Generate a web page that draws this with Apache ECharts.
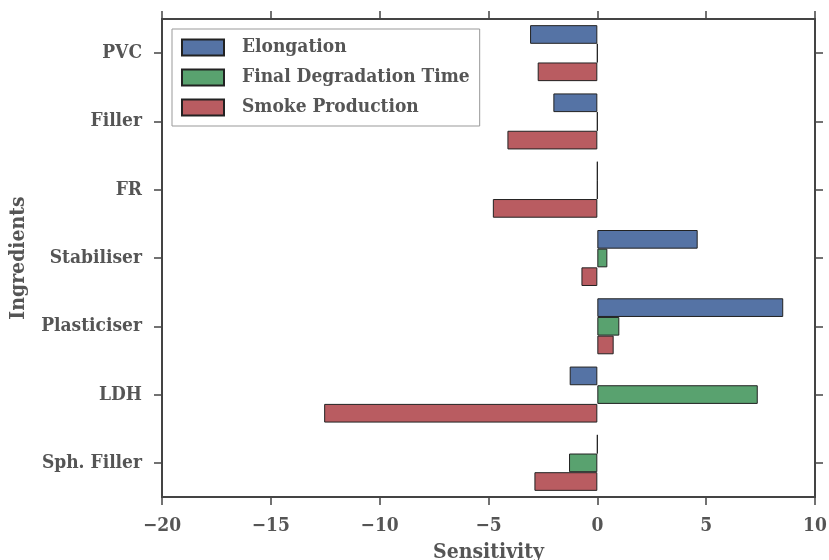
<!DOCTYPE html>
<html><head><meta charset="utf-8">
<script src="https://cdn.jsdelivr.net/npm/echarts@6/dist/echarts.min.js"></script>
<style>html,body{margin:0;padding:0;background:#fff}#c{width:829px;height:560px}</style>
</head><body><div id="c"></div>
<script>
const categories = ['PVC', 'Filler', 'FR', 'Stabiliser', 'Plasticiser', 'LDH', 'Sph. Filler'];
const elongation = [-3.09, -2.02, 0, 4.61, 8.54, -1.27, 0];
const finalDegradationTime = [0, 0, 0, 0.46, 1.01, 7.37, -1.30];
const smokeProduction = [-2.74, -4.13, -4.80, -0.73, 0.75, -12.55, -2.89];
const seriesNames = ['Elongation', 'Final Degradation Time', 'Smoke Production'];
const xTicks = [-20, -15, -10, -5, 0, 5, 10];

const FONT = 'DejaVu Serif Condensed';
const TXT = '#555555';
const AX = '#444444';
const colors = ['#5573a5', '#59a26f', '#b95c61'];

const chart = echarts.init(document.getElementById('c'), null, {renderer: 'canvas'});
const mk = (name, data, i) => ({
  name, type: 'bar', data, xAxisIndex: 0, yAxisIndex: 0,
  barGap: '0%', barCategoryGap: '18%',
  itemStyle: {color: colors[i], borderColor: '#222', borderWidth: 1},
  emphasis: {disabled: true}, animation: false
});
const lbl = {fontFamily: FONT, fontWeight: 'bold', fontSize: 19, color: TXT};
chart.setOption({
  animation: false,
  textStyle: {fontFamily: FONT},
  grid: {left: 162, right: 14, top: 19, bottom: 63, containLabel: false, outerBoundsMode: 'none'},
  legend: {
    data: seriesNames.map(n => ({name: n, icon: 'rect'})), orient: 'vertical', left: 172, top: 29,
    itemWidth: 42, itemHeight: 16, itemGap: 11,
    padding: [9, 10, 9, 9],
    borderColor: '#999', borderWidth: 1, backgroundColor: '#fff',
    textStyle: {fontFamily: FONT, fontWeight: 'bold', fontSize: 19, color: TXT, padding: [0, 0, 0, 13]}
  },
  xAxis: [{
    type: 'value', min: xTicks[0], max: xTicks[xTicks.length - 1], interval: 5,
    name: 'Sensitivity', nameLocation: 'middle', nameGap: 45,
    nameTextStyle: Object.assign({}, lbl, {fontSize: 21}),
    axisLine: {show: true, onZero: false, lineStyle: {color: AX, width: 2}},
    axisTick: {show: true, inside: false, length: 8, lineStyle: {color: AX, width: 1.5}},
    axisLabel: Object.assign({margin: 20, formatter: v => String(v).replace('-', '\u2212')}, lbl),
    splitLine: {show: false}
  }, {
    type: 'value', position: 'top', min: xTicks[0], max: xTicks[xTicks.length - 1], interval: 5,
    axisLine: {show: true, onZero: false, lineStyle: {color: AX, width: 2}},
    axisTick: {show: true, inside: false, length: 8, lineStyle: {color: AX, width: 1.5}},
    axisLabel: {show: false}, splitLine: {show: false}
  }],
  yAxis: [{
    type: 'category', data: categories, inverse: true,
    name: 'Ingredients', nameLocation: 'middle', nameGap: 133, nameRotate: 90,
    nameTextStyle: Object.assign({}, lbl, {fontSize: 21}),
    axisLine: {show: true, onZero: false, lineStyle: {color: AX, width: 2}},
    axisTick: {show: true, inside: false, alignWithLabel: true, length: 8, lineStyle: {color: AX, width: 1.5}},
    axisLabel: Object.assign({margin: 20}, lbl),
    splitLine: {show: false}
  }, {
    type: 'category', data: categories, inverse: true, position: 'right',
    axisLine: {show: true, onZero: false, lineStyle: {color: AX, width: 2}},
    axisTick: {show: true, inside: false, alignWithLabel: true, length: 8, lineStyle: {color: AX, width: 1.5}},
    axisLabel: {show: false}, splitLine: {show: false}
  }],
  series: [
    mk(seriesNames[0], elongation, 0),
    mk(seriesNames[1], finalDegradationTime, 1),
    mk(seriesNames[2], smokeProduction, 2)
  ]
});
</script></body></html>
